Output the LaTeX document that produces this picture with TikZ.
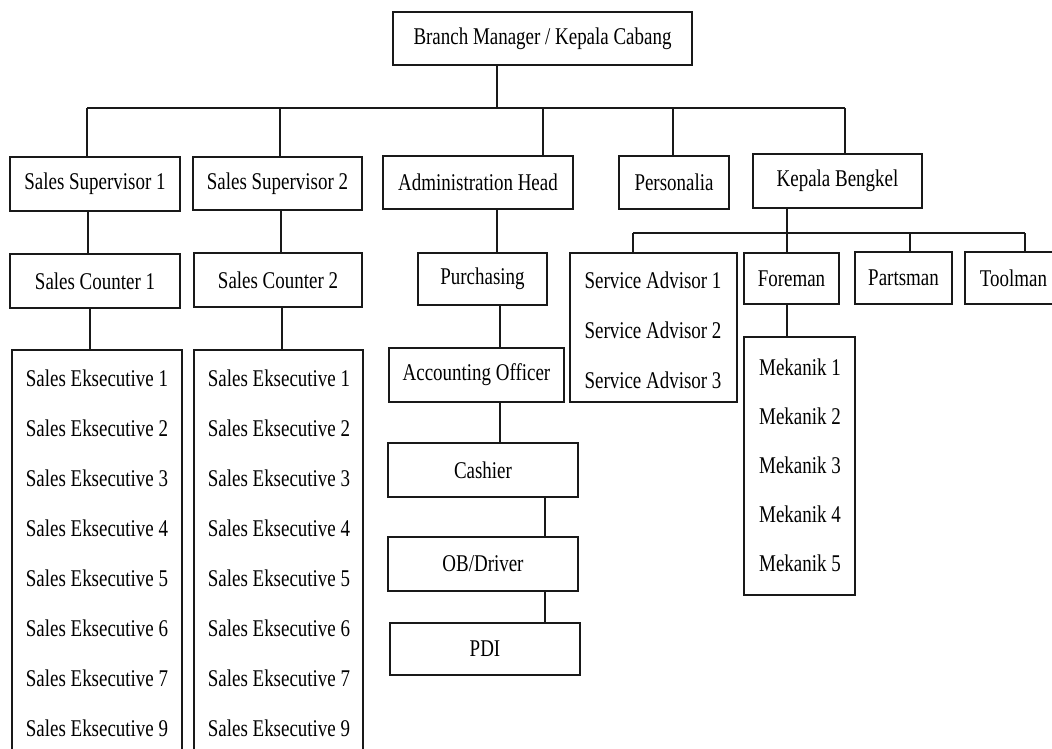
\documentclass[tikz,border=0pt]{standalone}
\usepackage{fontspec}
\setmainfont{Liberation Serif}[FakeStretch=0.79]
\begin{document}
\begin{tikzpicture}[x=1pt,y=-1pt,
  box/.style={draw=black!90,line width=2.4pt,inner sep=0pt,font=\fontsize{24}{26}\selectfont,text=black},
  lbl/.style={inner sep=0pt,font=\fontsize{24}{26}\selectfont,text=black},
  wire/.style={draw=black!90,line width=2.4pt}]
\useasboundingbox[fill=white] (0,0) rectangle (1052,748);
% helper: box from corners
\newcommand{\bx}[6]{\node[box,minimum width={(#4-#2)*1pt},minimum height={(#5-#3)*1pt}] (#1) at ({(#2+#4)/2},{(#3+#5)/2}) {#6};}
\bx{bm}{393}{12}{692}{65}{Branch Manager / Kepala Cabang}
\bx{ss1}{10}{157}{180}{211}{Sales Supervisor 1}
\bx{ss2}{193}{157}{362}{210}{Sales Supervisor 2}
\bx{ah}{383}{156}{573}{209}{Administration Head}
\bx{pers}{619}{156}{729}{209}{Personalia}
\bx{kb}{753}{154}{922}{208}{Kepala Bengkel}
\bx{sc1}{10}{254}{180}{308}{Sales Counter 1}
\bx{sc2}{194}{253}{362}{307}{Sales Counter 2}
\bx{pur}{418}{253}{547}{305}{Purchasing}
\bx{sa}{570}{253}{737}{402}{}
\bx{fore}{744}{253}{839}{304}{Foreman}
\bx{parts}{855}{252}{952}{304}{Partsman}
\bx{tool}{965}{252}{1062}{304}{Toolman}
\bx{se1}{12}{350}{182}{770}{}
\bx{se2}{194}{350}{363}{770}{}
\bx{ao}{389}{348}{564}{402}{Accounting Officer}
\bx{cash}{388}{443}{578}{497}{Cashier}
\bx{ob}{388}{537}{578}{591}{OB/Driver}
\bx{pdi}{390}{623}{580}{675}{PDI}
\bx{mek}{744}{337}{855}{595}{}
% list texts
\foreach \i/\n in {1/1,2/2,3/3,4/4,5/5,6/6,7/7,8/9}{
  \node[lbl] (sea\i) at (97,{328+50*\i}) {Sales Eksecutive \n};
  \node[lbl] (seb\i) at (279,{328+50*\i}) {Sales Eksecutive \n};
}
\foreach \i in {1,2,3}{
  \node[lbl] (sat\i) at (653,{230+50*\i}) {Service Advisor \i};
}
\foreach \i in {1,...,5}{
  \node[lbl] (mk\i) at (800,{318+49*\i}) {Mekanik \i};
}
% junction coordinates
\coordinate (j0) at (497,108);
\coordinate (jl) at (87,108);
\coordinate (jr) at (845,108);
\coordinate (k0) at (787,233);
\coordinate (kl) at (633,233);
\coordinate (kr) at (1025,233);
% top level
\draw[wire] (bm.south -| j0) -- (j0);
\draw[wire] (jl) -- (jr);
\draw[wire] (jl) -- (jl |- ss1.north);
\draw[wire] (280,108) -- (280,0 |- ss2.north);
\draw[wire] (543,108) -- (543,0 |- ah.north);
\draw[wire] (673,108) -- (673,0 |- pers.north);
\draw[wire] (jr) -- (jr |- kb.north);
% sales
\draw[wire] (ss1.south -| 88,0) -- (sc1.north -| 88,0);
\draw[wire] (ss2.south -| 281,0) -- (sc2.north -| 281,0);
\draw[wire] (sc1.south -| 90,0) -- (se1.north -| 90,0);
\draw[wire] (sc2.south -| 282,0) -- (se2.north -| 282,0);
% admin
\draw[wire] (ah.south -| 497,0) -- (pur.north -| 497,0);
\draw[wire] (pur.south -| 500,0) -- (ao.north -| 500,0);
\draw[wire] (ao.south -| 500,0) -- (cash.north -| 500,0);
\draw[wire] (cash.south -| 545,0) -- (ob.north -| 545,0);
\draw[wire] (ob.south -| 545,0) -- (pdi.north -| 545,0);
% bengkel
\draw[wire] (kb.south -| k0) -- (k0);
\draw[wire] (kl) -- (kr);
\draw[wire] (kl) -- (kl |- sa.north);
\draw[wire] (k0) -- (k0 |- fore.north);
\draw[wire] (910,233) -- (910,0 |- parts.north);
\draw[wire] (kr) -- (kr |- tool.north);
\draw[wire] (fore.south -| 787,0) -- (mek.north -| 787,0);
\end{tikzpicture}
\end{document}
